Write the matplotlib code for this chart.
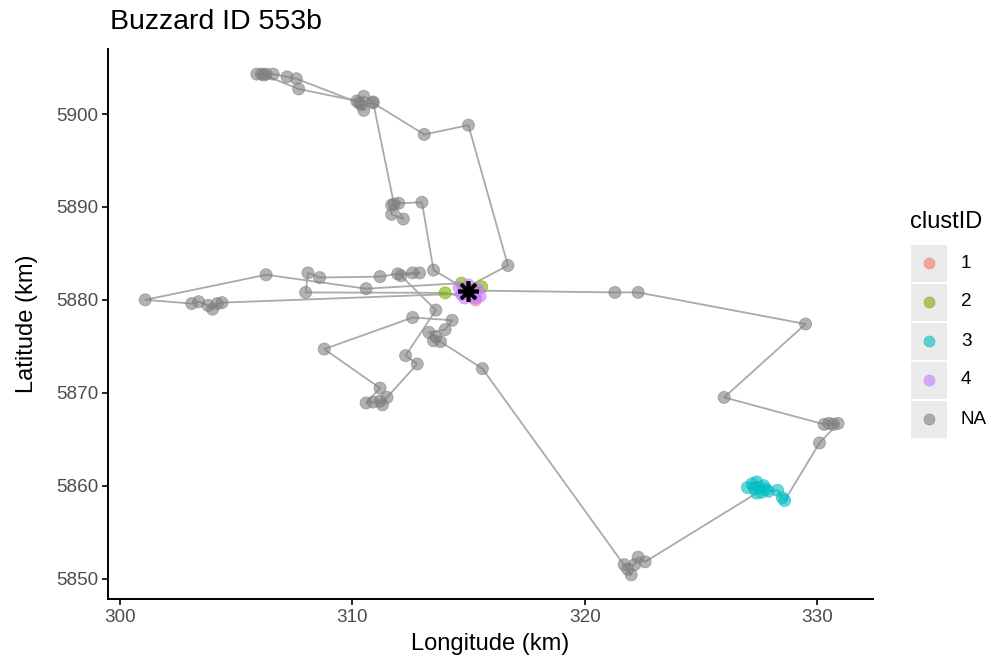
import matplotlib
matplotlib.use("Agg")
import matplotlib.pyplot as plt
from matplotlib.patches import Rectangle
import numpy as np

plt.rcParams["font.family"] = ["Liberation Sans", "DejaVu Sans"]

# GPS fixes in track order (km, projected); clust = cluster id, None = unclustered
lon = [
    315.0, 313.5, 313.0, 312.0, 311.7, 311.7, 312.2, 311.8, 310.9, 310.5, 310.3,
    307.6, 307.2, 306.6, 306.3, 306.1, 305.9, 306.2, 307.7, 310.2, 310.5, 310.4,
    310.9, 313.1, 315.0, 316.7, 314.8,
    315.2, 321.3, 322.3, 329.5, 326.0, 330.3, 330.5, 330.7, 330.9, 330.1, 328.6,
    328.5, 328.3, 327.9, 327.7, 327.5, 327.3, 327.6, 327.4, 327.2, 327.0, 327.8,
    327.4, 322.6, 322.3, 322.15, 321.7, 321.85, 322.0, 315.6, 313.8, 313.5, 313.6,
    313.3, 314.0, 314.3, 312.6, 308.8, 311.2, 310.6, 310.9, 311.2, 311.3, 311.5,
    312.8, 312.3, 313.6, 312.1, 312.9, 312.6, 311.96, 311.2, 308.6, 308.1, 308.0,
    314.0, 315.3,
    314.7, 310.6, 306.3, 301.1, 303.1, 303.4, 303.8, 304.0, 304.2, 304.4, 315.1,
    315.57, 314.6, 314.84, 315.14, 315.4, 315.3, 315.0, 314.7, 315.5, 315.05,
]
lat = [
    5881.0, 5883.2, 5890.5, 5890.4, 5890.2, 5889.2, 5888.7, 5890.3, 5901.3, 5901.9, 5901.2,
    5903.8, 5904.0, 5904.3, 5904.3, 5904.3, 5904.3, 5904.2, 5902.7, 5901.4, 5900.4, 5901.0,
    5901.2, 5897.8, 5898.8, 5883.7, 5881.2,
    5881.0, 5880.8, 5880.8, 5877.4, 5869.5, 5866.6, 5866.7, 5866.6, 5866.7, 5864.6, 5858.4,
    5858.7, 5859.5, 5859.4, 5860.0, 5859.8, 5859.7, 5859.3, 5860.4, 5860.2, 5859.8, 5859.6,
    5859.2, 5851.8, 5852.3, 5851.5, 5851.5, 5851.0, 5850.4, 5872.6, 5875.5, 5875.6, 5876.0,
    5876.5, 5876.8, 5877.8, 5878.1, 5874.7, 5870.5, 5868.9, 5869.0, 5869.1, 5868.7, 5869.5,
    5873.1, 5874.0, 5878.9, 5882.6, 5882.9, 5882.9, 5882.8, 5882.5, 5882.4, 5882.9, 5880.8,
    5880.75, 5880.0,
    5881.8, 5881.2, 5882.7, 5880.0, 5879.6, 5879.8, 5879.4, 5879.0, 5879.6, 5879.7, 5880.7,
    5881.4, 5881.3, 5880.2, 5880.4, 5881.1, 5880.2, 5881.6, 5880.6, 5880.4, 5880.9,
]
clust = (
    ["4"] + [None] * 25 + ["4"]
    + ["4"] + [None] * 9 + ["3"] * 13 + [None] * 32 + ["2", "1"]
    + ["2"] + [None] * 9 + ["4", "2"] + ["4"] * 9
)
nest_lon, nest_lat = 315.0, 5881.0

legend_labels = ["1", "2", "3", "4", "NA"]
legend_colors = ["#F8766D", "#7CAE00", "#00BFC4", "#C77CFF", "#7F7F7F"]
col_of = dict(zip(legend_labels, legend_colors))

fig = plt.figure(figsize=(9.98, 6.64), dpi=100)
ax = fig.add_axes([108 / 998, 1 - 599 / 664, (873 - 108) / 998, (599 - 49) / 664])

ax.plot(lon, lat, color="#AAAAAA", lw=1.3, zorder=1)
cols = [col_of[c if c is not None else "NA"] for c in clust]
ax.scatter(lon, lat, s=76, c=cols, alpha=0.6, edgecolors=cols, linewidths=0.6, zorder=2)
ax.plot([nest_lon], [nest_lat], marker=(8, 2, 0), ms=15, mew=2.6, color="black", zorder=3)

ax.set_xlim(299.5, 332.4)
ax.set_ylim(5847.8, 5907.0)
ax.set_xticks([300, 310, 320, 330])
ax.set_yticks([5850, 5860, 5870, 5880, 5890, 5900])
for s in ["top", "right"]:
    ax.spines[s].set_visible(False)
for s in ["left", "bottom"]:
    ax.spines[s].set_linewidth(1.4)
ax.tick_params(length=4, width=1.2, labelsize=13.6, labelcolor="#4D4D4D", pad=3)
ax.set_xlabel("Longitude (km)", fontsize=17, labelpad=5)
ax.set_ylabel("Latitude (km)", fontsize=17, labelpad=13)
fig.text(110 / 998, 1 - 22 / 664, "Buzzard ID 553b", fontsize=20.5, va="center", ha="left")

# legend drawn by hand, in pixel coordinates
lax = fig.add_axes([0, 0, 1, 1])
lax.set_xlim(0, 998)
lax.set_ylim(664, 0)
lax.axis("off")
lax.text(910, 222, "clustID", fontsize=17, va="center", ha="left")
for i, (lab, col) in enumerate(zip(legend_labels, legend_colors)):
    yc = 263 + 39 * i
    lax.add_patch(Rectangle((911, yc - 18), 36, 37, facecolor="#EBEBEB", edgecolor="none"))
    lax.scatter([929], [yc], s=62, color=col, alpha=0.6, edgecolors=col, linewidths=0.6)
    lax.text(961, yc, lab, fontsize=13.6, va="center", ha="left")

fig.savefig("out.png", dpi=100)
